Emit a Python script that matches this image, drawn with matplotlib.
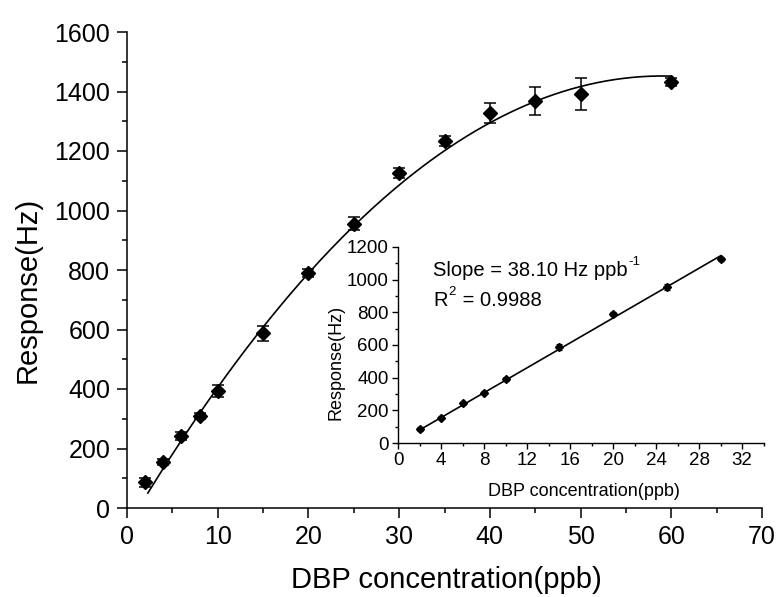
import numpy as np
import matplotlib
matplotlib.use("Agg")
import matplotlib.pyplot as plt
from matplotlib.ticker import MultipleLocator

plt.rcParams['font.family'] = ['Liberation Sans', 'DejaVu Sans']

# Main data
conc = [2, 4, 6, 8, 10, 15, 20, 25, 30, 35, 40, 45, 50, 60]
resp = [86, 155, 242, 308, 392, 588, 790, 956, 1127, 1234, 1329, 1369, 1392, 1432]
err = [15, 10, 12, 10, 20, 25, 12, 22, 17, 17, 34, 47, 55, 14]

# Quadratic fit (y = c0 + c1 x + c2 x^2)
fit_coef = [-65.7, 51.45, -0.436]
fit_range = [2.3, 60]

# Inset (linear range) data
conc_lin = [2, 4, 6, 8, 10, 15, 20, 25, 30]
resp_lin = [86, 155, 242, 308, 392, 588, 790, 956, 1127]
err_lin = [10, 8, 10, 8, 10, 20, 12, 18, 12]
slope = 38.10
intercept = 3.0

fig = plt.figure(figsize=(7.77, 5.97), dpi=100)
W, H = 777, 597

def rect(l, r, t, b):
    return [l / W, 1 - b / H, (r - l) / W, (b - t) / H]

ax = fig.add_axes(rect(127, 762, 32, 508))
ax.errorbar(conc, resp, yerr=err, fmt='D', color='black', ms=6.8,
            capsize=4, elinewidth=1.1, capthick=1.1, zorder=3)
xf = np.linspace(fit_range[0], fit_range[1], 300)
yf = fit_coef[0] + fit_coef[1] * xf + fit_coef[2] * xf ** 2
ax.plot(xf, yf, color='black', lw=1.2)
ax.set_xlim(0, 70)
ax.set_ylim(0, 1600)
ax.xaxis.set_major_locator(MultipleLocator(10))
ax.xaxis.set_minor_locator(MultipleLocator(5))
ax.yaxis.set_major_locator(MultipleLocator(200))
ax.yaxis.set_minor_locator(MultipleLocator(100))
for s in ['top', 'right']:
    ax.spines[s].set_visible(False)
for s in ['left', 'bottom']:
    ax.spines[s].set_linewidth(1.1)
ax.tick_params(which='major', direction='out', length=7, width=1.1, labelsize=18, pad=5)
ax.tick_params(which='minor', direction='out', length=3.6, width=1.1)

fig.text(28 / W, 1 - 290 / H, 'Response(Hz)', rotation=90, ha='center', va='center', fontsize=21)
fig.text(446 / W, 1 - 580 / H, 'DBP concentration(ppb)', ha='center', va='center', fontsize=21)

# Inset
ax2 = fig.add_axes(rect(398, 763.5, 247, 443))
ax2.errorbar(conc_lin, resp_lin, yerr=err_lin, fmt='D', color='black', ms=4,
             capsize=2, elinewidth=0.9, capthick=0.9, zorder=3)
xl = np.array([conc_lin[0], conc_lin[-1]])
ax2.plot(xl, slope * xl + intercept, color='black', lw=1.2)
ax2.set_xlim(0, 34)
ax2.set_ylim(0, 1200)
ax2.xaxis.set_major_locator(MultipleLocator(4))
ax2.xaxis.set_minor_locator(MultipleLocator(2))
ax2.yaxis.set_major_locator(MultipleLocator(200))
ax2.yaxis.set_minor_locator(MultipleLocator(100))
for s in ['top', 'right']:
    ax2.spines[s].set_visible(False)
for s in ['left', 'bottom']:
    ax2.spines[s].set_linewidth(1.0)
ax2.tick_params(which='major', direction='out', length=4.3, width=1.0, labelsize=13.5, pad=2.5)
ax2.tick_params(which='minor', direction='out', length=2.5, width=1.0)
ax2.patch.set_alpha(0)

fig.text(336 / W, 1 - 362 / H, 'Response(Hz)', rotation=90, ha='center', va='center', fontsize=13)
fig.text(584 / W, 1 - 492 / H, 'DBP concentration(ppb)', ha='center', va='center', fontsize=13)

renderer = fig.canvas.get_renderer()
t1 = fig.text(433 / W, 1 - 270 / H, 'Slope = 38.10 Hz ppb', ha='left', va='center', fontsize=14.5)
bb = t1.get_window_extent(renderer)
fig.text((bb.x1 + 1) / W, 1 - 262 / H, '-1', ha='left', va='center', fontsize=9.5)
t2 = fig.text(433 / W, 1 - 300 / H, 'R', ha='left', va='center', fontsize=14.5)
bb2 = t2.get_window_extent(renderer)
t3 = fig.text((bb2.x1 + 1) / W, 1 - 292 / H, '2', ha='left', va='center', fontsize=9.5)
bb3 = t3.get_window_extent(renderer)
fig.text((bb3.x1 + 1) / W, 1 - 300 / H, ' = 0.9988', ha='left', va='center', fontsize=14.5)

fig.savefig('out.png', dpi=100)
